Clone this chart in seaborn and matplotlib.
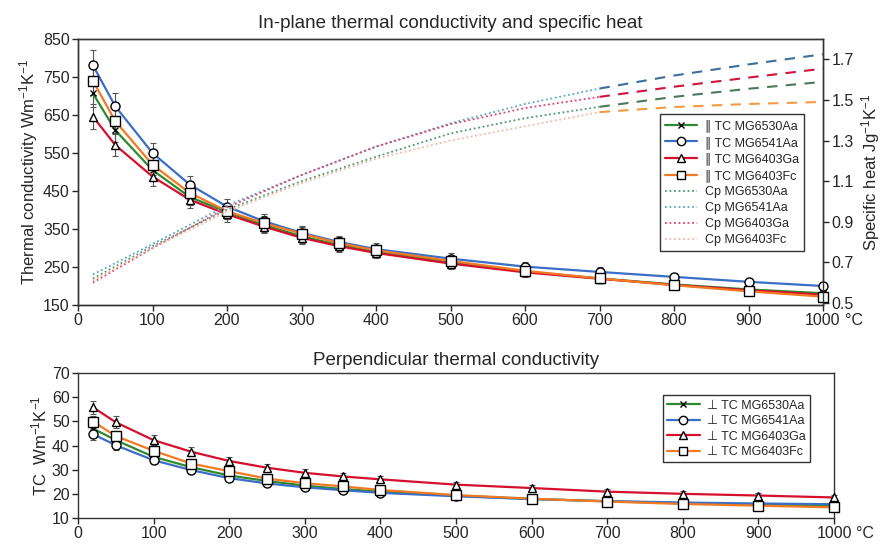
import numpy as np
import pandas as pd
import matplotlib
matplotlib.use("Agg")
import matplotlib.pyplot as plt
import seaborn as sns
from matplotlib.lines import Line2D

sns.set_style("ticks")
plt.rcParams['font.family'] = ['Liberation Sans', 'DejaVu Sans']
plt.rcParams['mathtext.fontset'] = 'custom'
plt.rcParams['mathtext.rm'] = 'Liberation Sans'
plt.rcParams['mathtext.it'] = 'Liberation Sans:italic'
plt.rcParams['mathtext.bf'] = 'Liberation Sans:bold'
plt.rcParams['mathtext.default'] = 'regular'

# ---------------- data ----------------
temps = [20, 50, 100, 150, 200, 250, 300, 350, 400, 500, 600, 700, 800, 900, 1000]
samples = ["MG6530Aa", "MG6541Aa", "MG6403Ga", "MG6403Fc"]

tc_in_6530Aa = [707, 610, 505, 434, 395, 360, 331, 308, 290, 262, 238, 220, 204, 191, 181]
tc_in_6541Aa = [781, 673, 550, 467, 409, 370, 340, 316, 297, 272, 251, 237, 224, 211, 200]
tc_in_6403Ga = [646, 571, 488, 427, 389, 356, 327, 305, 287, 259, 236, 219, 203, 189, 177]
tc_in_6403Fc = [740, 634, 519, 445, 397, 365, 338, 313, 294, 266, 240, 220, 202, 186, 172]

tc_pp_6530Aa = [47.0, 42.2, 35.3, 31.0, 27.6, 25.3, 23.4, 22.0, 20.9, 19.2, 17.9, 16.9, 16.1, 15.5, 15.0]
tc_pp_6541Aa = [44.7, 40.1, 33.9, 29.8, 26.5, 24.3, 22.7, 21.5, 20.4, 19.0, 17.8, 17.0, 16.4, 16.0, 15.7]
tc_pp_6403Ga = [55.8, 49.6, 42.2, 37.4, 33.6, 30.8, 28.7, 27.2, 26.0, 23.8, 22.4, 20.9, 20.0, 19.3, 18.5]
tc_pp_6403Fc = [49.9, 43.9, 37.8, 32.5, 29.4, 26.3, 24.4, 23.1, 21.6, 19.5, 18.0, 16.8, 15.8, 15.1, 14.4]

cp_temps = [20, 100, 200, 300, 400, 500, 600, 700, 800, 900, 1000]
cp_6530Aa = [0.62, 0.78, 0.96, 1.10, 1.22, 1.335, 1.41, 1.466, 1.515, 1.555, 1.589]
cp_6541Aa = [0.64, 0.79, 0.98, 1.13, 1.27, 1.385, 1.48, 1.556, 1.62, 1.675, 1.725]
cp_6403Ga = [0.60, 0.77, 0.97, 1.13, 1.27, 1.38, 1.46, 1.515, 1.565, 1.61, 1.654]
cp_6403Fc = [0.61, 0.77, 0.95, 1.09, 1.21, 1.30, 1.37, 1.44, 1.465, 1.48, 1.49]
cp_split = 700  # measured (dotted) up to here, extrapolated (dashed) after

err_frac = 0.05

xticks = [0, 100, 200, 300, 400, 500, 600, 700, 800, 900, 1000]
xticklabels = ["0", "100", "200", "300", "400", "500", "600", "700", "800", "900", "1000"]

# ---------------- styles ----------------
tc_colors = {"MG6530Aa": "#2f8a2f", "MG6541Aa": "#3b6fc6", "MG6403Ga": "#d4102c", "MG6403Fc": "#f27a22"}
markers = {"MG6530Aa": "x", "MG6541Aa": "o", "MG6403Ga": "^", "MG6403Fc": "s"}
msizes = {"MG6530Aa": 5, "MG6541Aa": 6.5, "MG6403Ga": 6, "MG6403Fc": 6.5}
cp_dot_colors = {"MG6530Aa": "#4f9a6a", "MG6541Aa": "#5aa8c4", "MG6403Ga": "#e04070", "MG6403Fc": "#f2b8a8"}
cp_dash_colors = {"MG6530Aa": "#4a7a5a", "MG6541Aa": "#3d6e9c", "MG6403Ga": "#d0143f", "MG6403Fc": "#f59a40"}

tc_in = dict(zip(samples, [tc_in_6530Aa, tc_in_6541Aa, tc_in_6403Ga, tc_in_6403Fc]))
tc_pp = dict(zip(samples, [tc_pp_6530Aa, tc_pp_6541Aa, tc_pp_6403Ga, tc_pp_6403Fc]))
cps = dict(zip(samples, [cp_6530Aa, cp_6541Aa, cp_6403Ga, cp_6403Fc]))

W, H = 884, 548
fig = plt.figure(figsize=(W / 100, H / 100), dpi=100)
ax1 = fig.add_axes([78 / W, (H - 305) / H, 745 / W, 266 / H])
ax3 = fig.add_axes([78 / W, (H - 518) / H, 756 / W, 145 / H])
ax2 = ax1.twinx()

fs = 11.5
lfs = 12
tfs = 13.5
legfs = 9


def draw_tc(ax, data, prefix):
    handles = []
    for s in samples:
        df = pd.DataFrame({"T": temps, "TC": data[s]})
        y = np.array(data[s])
        ax.errorbar(temps, y, yerr=y * err_frac, fmt="none", ecolor="#555555",
                    elinewidth=0.8, capsize=2.5, capthick=0.8, zorder=2, clip_on=False)
        sns.lineplot(data=df, x="T", y="TC", ax=ax, color=tc_colors[s], lw=1.6,
                     marker=markers[s], markersize=msizes[s],
                     markerfacecolor="white", markeredgecolor="black",
                     markeredgewidth=1.0, zorder=3, clip_on=False, legend=False)
        handles.append(Line2D([], [], color=tc_colors[s], lw=1.6, marker=markers[s],
                              markersize=msizes[s] - 0.5, markerfacecolor="white",
                              markeredgecolor="black", markeredgewidth=1.0,
                              label=f"{prefix} TC {s}"))
    return handles


# ---------------- top panel ----------------
h_tc = draw_tc(ax1, tc_in, "\u2225")

cp_handles = []
for s in samples:
    df = pd.DataFrame({"T": cp_temps, "Cp": cps[s]})
    dot = df[df["T"] <= cp_split]
    dash = df[df["T"] >= cp_split]
    sns.lineplot(data=dot, x="T", y="Cp", ax=ax2, color=cp_dot_colors[s], lw=1.3,
                 linestyle=(0, (1, 1.5)), legend=False)
    sns.lineplot(data=dash, x="T", y="Cp", ax=ax2, color=cp_dash_colors[s], lw=1.5,
                 linestyle=(0, (5, 4)), legend=False)
    cp_handles.append(Line2D([], [], color=cp_dot_colors[s], lw=1.3,
                             linestyle=(0, (1, 1.5)), label=f"Cp {s}"))

ax1.set_xlim(0, 1000)
ax1.set_ylim(150, 850)
ax1.set_yticks(range(150, 851, 100))
ax2.set_ylim(0.49, 1.80)
ax2.set_yticks([0.5, 0.7, 0.9, 1.1, 1.3, 1.5, 1.7])
ax2.set_yticklabels(["0.5", "0.7", "0.9", "1.1", "1.3", "1.5", "1.7"])
ax1.set_xticks(xticks)
ax1.set_xticklabels(xticklabels)
ax1.set_xlabel("")
ax1.set_ylabel("Thermal conductivity Wm$^{-1}$K$^{-1}$", fontsize=lfs, labelpad=2)
ax2.set_ylabel("Specific heat Jg$^{-1}$K$^{-1}$", fontsize=lfs, labelpad=4)
ax1.set_title("In-plane thermal conductivity and specific heat", fontsize=tfs, pad=8)
ax1.tick_params(labelsize=fs, direction="out", length=4, width=1, pad=2)
ax2.tick_params(labelsize=fs, direction="out", length=4, width=1, pad=2)
ax1.annotate("\u00b0C", xy=(1.0, 0.0), xycoords="axes fraction", xytext=(16, -6),
             textcoords="offset points", ha="left", va="top", fontsize=fs)

leg = ax2.legend(handles=h_tc + cp_handles, loc="upper right", bbox_to_anchor=(0.983, 0.741),
                 fontsize=legfs, frameon=True, fancybox=False, edgecolor="black",
                 handlelength=2.6, handletextpad=0.6, labelspacing=0.32, borderpad=0.4)
leg.get_frame().set_linewidth(1.0)

# ---------------- bottom panel ----------------
h_pp = draw_tc(ax3, tc_pp, "\u22a5")
ax3.set_xlim(0, 1000)
ax3.set_ylim(10, 70)
ax3.set_yticks(range(10, 71, 10))
ax3.set_xticks(xticks)
ax3.set_xticklabels(xticklabels)
ax3.set_xlabel("")
ax3.set_ylabel("TC  Wm$^{-1}$K$^{-1}$", fontsize=lfs, labelpad=2)
ax3.set_title("Perpendicular thermal conductivity", fontsize=tfs, pad=6)
ax3.tick_params(labelsize=fs, direction="out", length=4, width=1, pad=2)
ax3.annotate("\u00b0C", xy=(1.0, 0.0), xycoords="axes fraction", xytext=(16, -6),
             textcoords="offset points", ha="left", va="top", fontsize=fs)
leg2 = ax3.legend(handles=h_pp, loc="upper right", bbox_to_anchor=(0.977, 0.89),
                  fontsize=legfs, frameon=True, fancybox=False, edgecolor="black",
                  handlelength=2.6, handletextpad=0.6, labelspacing=0.28, borderpad=0.35)
leg2.get_frame().set_linewidth(1.0)

for ax in (ax1, ax2, ax3):
    for sp in ax.spines.values():
        sp.set_visible(True)
        sp.set_color("#333333")
        sp.set_linewidth(1.0)

fig.savefig("out.png", dpi=100)
